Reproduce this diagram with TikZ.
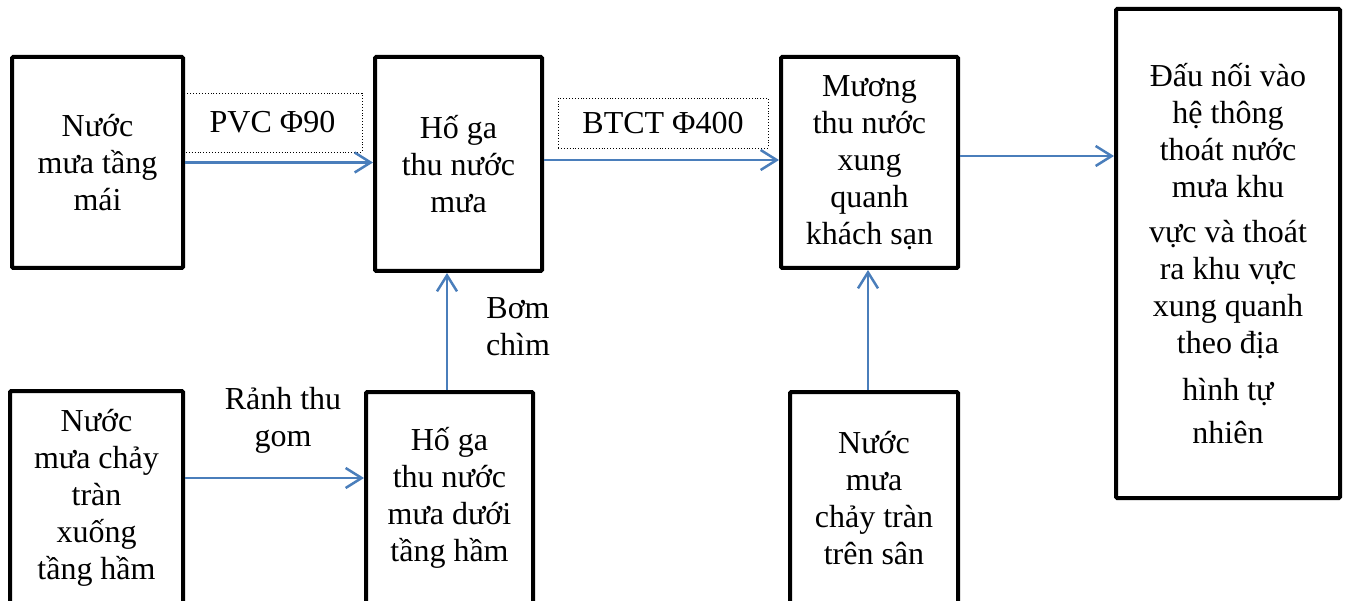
\documentclass[tikz,border=0pt]{standalone}
\usepackage{fontspec}
\setmainfont{Liberation Serif}
\usetikzlibrary{arrows.meta,calc}
\definecolor{flowblue}{RGB}{74,126,187}
\tikzset{
  stage/.style={draw=black, line width=4pt, rounded corners=1.2pt, fill=white,
    align=center, inner sep=0pt, font=\fontsize{32}{37}\selectfont},
  pipelabel/.style={draw=black, dotted, line width=0.9pt, inner sep=0pt,
    font=\fontsize{32}{37}\selectfont},
  note/.style={align=center, inner sep=0pt, font=\fontsize{32}{37}\selectfont},
  flow/.style={draw=flowblue, line width=2.5pt,
    -{Straight Barb[length=16pt,width=20pt,line width=2.5pt]}},
}
\begin{document}
\begin{tikzpicture}[x=1pt,y=-1pt]
\useasboundingbox (0,0) rectangle (1349,601);
\clip (0,0) rectangle (1349,601);

% stages of the drainage chain
\node[stage, minimum width=171pt, minimum height=211pt] (roof) at (97.5,162.5)
  {Nước\\mưa tầng\\mái};
\node[stage, minimum width=167pt, minimum height=214pt] (pit) at (458.5,164)
  {Hố ga\\thu nước\\mưa};
\node[stage, minimum width=177pt, minimum height=211pt] (ditch) at (869.5,162.5)
  {Mương\\thu nước\\xung\\quanh\\khách sạn};
\node[stage, minimum width=224pt, minimum height=489pt] (outlet) at (1228,253.5)
  {Đấu nối vào\\hệ thông\\thoát nước\\mưa khu\\[8pt]vực và thoát\\ra khu vực\\xung quanh\\theo địa\\[10pt]hình tự\\[6pt]nhiên};
\node[stage, minimum width=173pt, minimum height=213pt] (basement) at (96.5,497.5)
  {Nước\\mưa chảy\\tràn\\xuống\\tầng hầm};
\node[stage, minimum width=167pt, minimum height=212pt] (sump) at (449.5,498)
  {Hố ga\\thu nước\\mưa dưới\\tầng hầm};
\node[stage, minimum width=168pt, minimum height=212pt] (yard) at (874,498)
  {Nước\\mưa\\chảy tràn\\trên sân};

% pipe and channel labels
\node[pipelabel, minimum width=179pt, minimum height=59pt] (pvc) at (272.5,122.5) {PVC Φ90};
\node[pipelabel, minimum width=210pt, minimum height=50pt] (btct) at (663,123) {BTCT Φ400};
\node[note] (channel) at (283,420) {Rảnh thu\\gom};
\node[note] (pump) at (518,327) {Bơm\\chìm};

% flows
\draw[flow] (roof.east) -- (roof.east -| pit.west);
\draw[flow] ([yshift=4pt]pit.east) -- ([yshift=4pt]pit.east -| ditch.west);
\draw[flow] ([yshift=6.5pt]ditch.east) -- ([yshift=6.5pt]ditch.east -| outlet.west);
\draw[flow] ([yshift=19.5pt]basement.east) -- ([yshift=19.5pt]basement.east -| sump.west);
\draw[flow] ([xshift=-2.5pt]sump.north) -- ([xshift=-2.5pt]sump.north |- pit.south);
\draw[flow] ([xshift=-6pt]yard.north) -- ([xshift=-6pt]yard.north |- ditch.south);
\end{tikzpicture}
\end{document}
